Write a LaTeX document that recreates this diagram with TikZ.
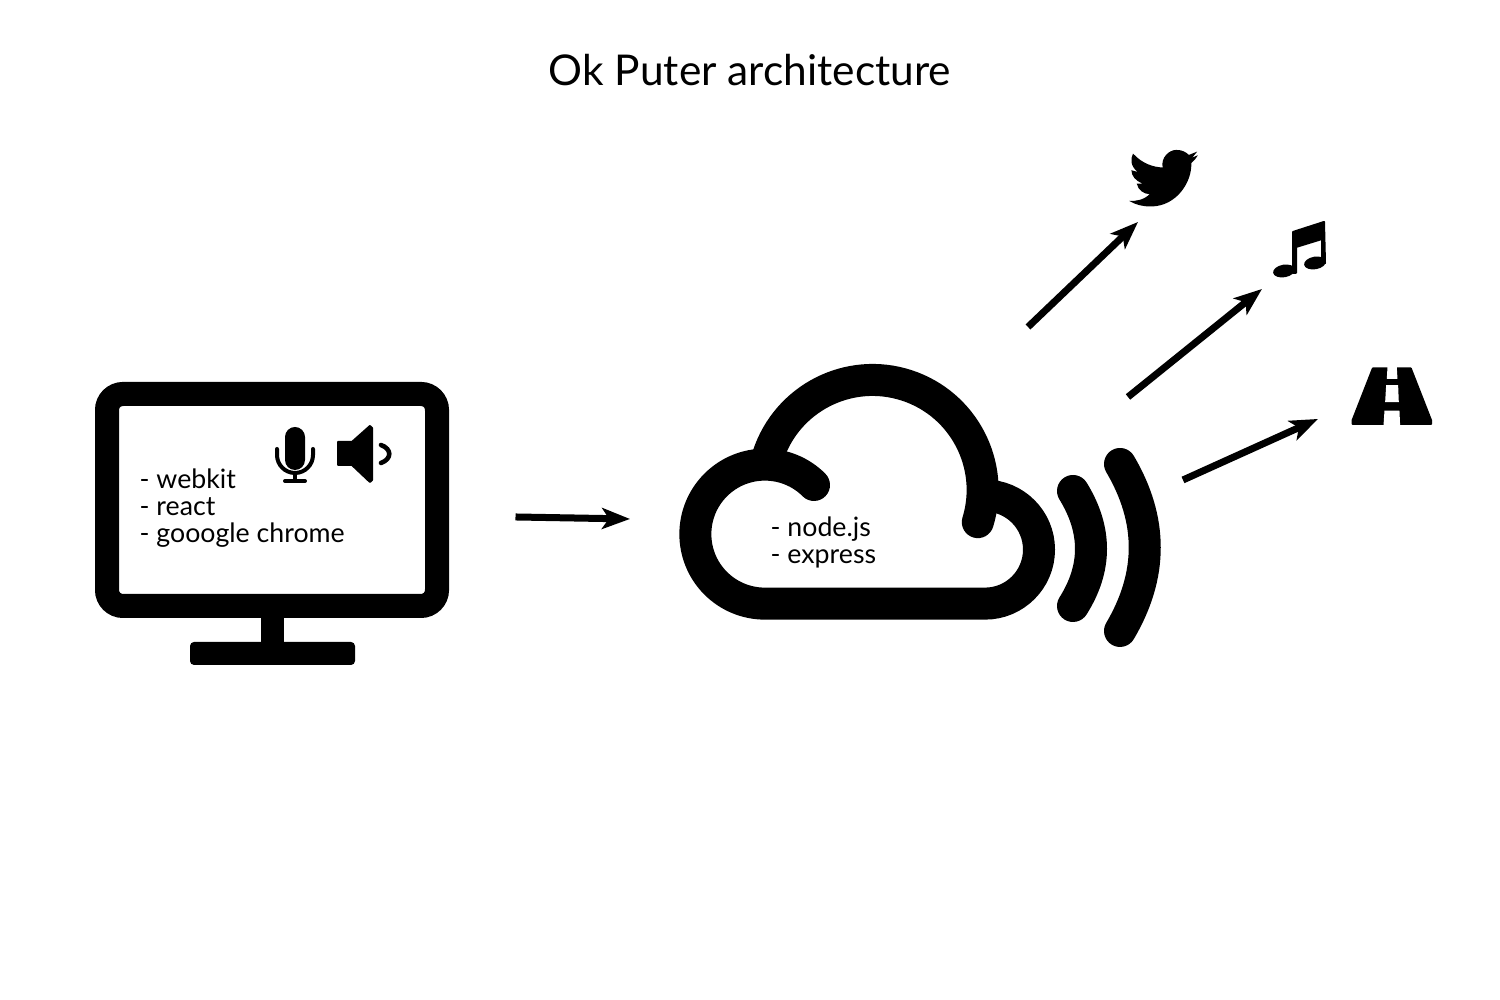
\documentclass[tikz,border=0pt]{standalone}
\usepackage{fontspec}
\setmainfont{Lato}
\usetikzlibrary{arrows.meta}
\tikzset{
    flow/.style={line width=0.07cm, -{Stealth[length=0.28cm,width=0.21cm,inset=0.07cm]}},
    thick icon/.style={line width=0.32cm, line cap=round},
    thin icon/.style={line width=0.04cm, line cap=round},
    solid icon/.style={fill=black, draw=black, line width=0.02cm, line join=round},
    solid box/.style={fill=black, draw=none, inner sep=0pt, outer sep=0pt, rectangle},
    notes/.style={inner sep=0pt, align=left, anchor=north west, font=\fontsize{7.6pt}{7.68pt}\selectfont},
    traced/.style={shift={(10.01,8.69)}, x=0.003333cm, y=-0.003333cm}
}
\begin{document}
\begin{tikzpicture}
    \useasboundingbox (0,0) rectangle (15,10);
    \node (title) at (7.5,9.295) {\fontsize{12.07pt}{14pt}\selectfont Ok Puter architecture};

    \node[draw, rectangle, line width=0.24cm, rounded corners=0.16cm, inner sep=0pt, outer sep=0pt, minimum width=3.3cm, minimum height=2.12cm] (monitor) at (2.72,5) {};
    \node[solid box, minimum width=0.23cm, minimum height=0.26cm, anchor=north] (monitorstand) at (2.725,3.84) {};
    \node[solid box, rounded corners=0.04cm, minimum width=1.65cm, minimum height=0.23cm, anchor=north] (monitorbase) at (2.725,3.58) {};
    \node[notes] (browsernotes) at (1.39,5.315) {- webkit\\- react\\- gooogle chrome};

    % mic
    \fill[rounded corners=0.1cm] (2.85,5.73) rectangle (3.05,5.3);
    \draw[thin icon] (2.77,5.51) -- (2.77,5.45) arc[start angle=180,end angle=360,radius=0.18] -- (3.13,5.51);
    \draw[thin icon] (2.95,5.27) -- (2.95,5.19);
    \draw[thin icon] (2.85,5.19) -- (3.05,5.19);

    % speaker
    \fill[solid icon] (3.38,5.58) -- (3.52,5.58) -- (3.7,5.74) -- (3.72,5.72) -- (3.72,5.2) -- (3.7,5.18) -- (3.52,5.35) -- (3.38,5.35) -- cycle;
    \draw[thin icon, line width=0.046cm] (3.81,5.55) .. controls (3.92,5.51) and (3.92,5.41) .. (3.81,5.37);

    % cloud
    \draw[thick icon] (8.14,5.15) arc[start angle=45,end angle=270,radius=0.695] -- (9.85,3.9636) arc[start angle=-90,end angle=90,radius=0.54];
    \draw[thick icon] (7.68,5.44) arc[start angle=162,end angle=-17,radius=1.1];
    \node[notes] (servernotes) at (7.70,4.84) {- node.js\\- express};

    % waves
    \draw[thick icon] (10.73,5.09) .. controls (10.97,4.7) and (10.97,4.32) .. (10.73,3.94);
    \draw[thick icon] (11.2,5.36) .. controls (11.53,4.8) and (11.53,4.25) .. (11.2,3.69);

    % bird, road
    \begin{scope}[traced]
        \fill (397,68) .. controls (425,98) and (455,108) .. (486,110)
            .. controls (480,80) and (505,57) .. (527,57)
            .. controls (545,57) and (555,63) .. (565,72)
            -- (590,62) -- (575,80) -- (592,73)
            .. controls (587,82) and (580,90) .. (572,97)
            .. controls (575,150) and (530,227) .. (450,227)
            .. controls (425,227) and (405,222) .. (385,210)
            .. controls (405,212) and (430,207) .. (447,190)
            .. controls (430,190) and (412,178) .. (408,158)
            -- (425,158)
            .. controls (405,150) and (392,135) .. (392,118)
            -- (410,123)
            .. controls (390,105) and (388,85) .. (397,68) -- cycle;
        \fill[solid icon] (1118,714) -- (1232,714) -- (1293,870) -- (1293,881) -- (1057,881) -- (1057,870) -- cycle;
        \fill[white] (1162,710) -- (1190,710) -- (1192,745) -- (1160,745) -- cycle;
        \fill[white] (1158,764) -- (1194,764) -- (1196,815) -- (1155,815) -- cycle;
        \fill[white] (1153,841) -- (1198,841) -- (1200,886) -- (1150,886) -- cycle;
    \end{scope}

    % music
    \fill[solid icon] (12.93,7.68) -- (13.24,7.78) -- (13.25,7.37) -- (13.22,7.37) -- (13.22,7.61) -- (12.96,7.53) -- (12.96,7.27) -- (12.93,7.27) -- cycle;
    \fill (12.84,7.29) ellipse[x radius=0.11, y radius=0.063, rotate=10];
    \fill (13.15,7.37) ellipse[x radius=0.11, y radius=0.063, rotate=10];

    \coordinate (monitorout) at (5.155,4.83);
    \coordinate (cloudin) at (6.3,4.81);
    \coordinate (birdfrom) at (10.28,6.73);
    \coordinate (birdto) at (11.38,7.78);
    \coordinate (musicfrom) at (11.28,6.03);
    \coordinate (musicto) at (12.62,7.11);
    \coordinate (roadfrom) at (11.83,5.2);
    \coordinate (roadto) at (13.18,5.81);

    \draw[flow] (monitorout) -- (cloudin);
    \draw[flow] (birdfrom) -- (birdto);
    \draw[flow] (musicfrom) -- (musicto);
    \draw[flow] (roadfrom) -- (roadto);
\end{tikzpicture}
\end{document}
